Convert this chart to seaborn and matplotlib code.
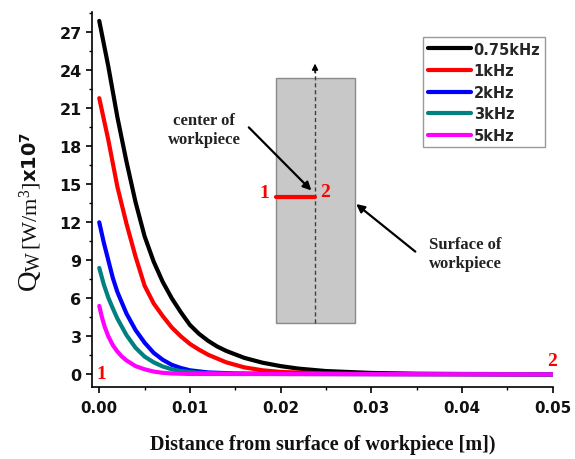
import numpy as np
import pandas as pd
import seaborn as sns
import matplotlib.pyplot as plt
from matplotlib.patches import Rectangle

# Heat generation Q_W (x10^7 W/m^3) versus distance from the workpiece surface
x_075 = [0.0, 0.001, 0.002, 0.003, 0.004, 0.005, 0.006, 0.007, 0.008, 0.009, 0.010, 0.011,
         0.012, 0.013, 0.014, 0.016, 0.018, 0.020, 0.022, 0.025, 0.030, 0.035, 0.040, 0.050]
q_075 = [27.9, 24.3, 20.3, 16.8, 13.6, 10.9, 8.9, 7.3, 6.0, 4.9, 3.9, 3.2,
         2.65, 2.2, 1.85, 1.3, 0.92, 0.65, 0.45, 0.26, 0.11, 0.05, 0.03, 0.01]

x_1 = [0.0, 0.001, 0.002, 0.003, 0.004, 0.005, 0.006, 0.007, 0.008, 0.009, 0.010, 0.011,
       0.012, 0.014, 0.016, 0.018, 0.020, 0.025, 0.030, 0.050]
q_1 = [21.8, 18.5, 14.8, 11.9, 9.3, 7.0, 5.6, 4.6, 3.7, 3.0, 2.4, 1.95,
       1.55, 0.95, 0.55, 0.32, 0.19, 0.07, 0.03, 0.0]

x_2 = [0.0, 0.0005, 0.001, 0.0015, 0.002, 0.003, 0.004, 0.005, 0.006, 0.007, 0.008, 0.009,
       0.010, 0.012, 0.015, 0.020, 0.050]
q_2 = [12.0, 10.4, 9.0, 7.6, 6.5, 4.8, 3.5, 2.5, 1.7, 1.15, 0.75, 0.5,
       0.32, 0.15, 0.07, 0.03, 0.0]

x_3 = [0.0, 0.0005, 0.001, 0.0015, 0.002, 0.003, 0.004, 0.005, 0.006, 0.007, 0.008, 0.009,
       0.011, 0.015, 0.050]
q_3 = [8.4, 7.1, 6.05, 5.2, 4.4, 3.1, 2.1, 1.4, 0.95, 0.62, 0.4, 0.26,
       0.12, 0.04, 0.0]

x_5 = [0.0, 0.0003, 0.0006, 0.001, 0.0015, 0.002, 0.0025, 0.003, 0.004, 0.005, 0.006, 0.007,
       0.008, 0.010, 0.050]
q_5 = [5.4, 4.5, 3.75, 3.0, 2.3, 1.8, 1.4, 1.1, 0.65, 0.4, 0.22, 0.12,
       0.07, 0.03, 0.0]

freq_labels = ["0.75kHz", "1kHz", "2kHz", "3kHz", "5kHz"]
line_colors = ["#000000", "#ff0000", "#0000ff", "#008080", "#ff00ff"]

y_ticks = [0, 3, 6, 9, 12, 15, 18, 21, 24, 27]
x_ticks = [0.00, 0.01, 0.02, 0.03, 0.04, 0.05]

series = [(x_075, q_075), (x_1, q_1), (x_2, q_2), (x_3, q_3), (x_5, q_5)]
frames = []
for lab, (xs, qs) in zip(freq_labels, series):
    frames.append(pd.DataFrame({"distance": xs, "Q": qs, "freq": lab}))
df = pd.concat(frames, ignore_index=True)

sns.set_theme(style="ticks")
plt.rcParams["font.family"] = ["DejaVu Sans"]
plt.rcParams["mathtext.fontset"] = "custom"
plt.rcParams["mathtext.rm"] = "Liberation Serif"
plt.rcParams["mathtext.it"] = "Liberation Serif:italic"
plt.rcParams["mathtext.bf"] = "DejaVu Sans:bold"

fig = plt.figure(figsize=(5.75, 4.6), dpi=100)
ax = fig.add_axes([0.16, 0.1565, 0.801, 0.8152])

sns.lineplot(data=df, x="distance", y="Q", hue="freq", hue_order=freq_labels,
             palette=line_colors, estimator=None, sort=False, linewidth=3.0, ax=ax)

ax.set_xlim(-0.0008, 0.05)
ax.set_ylim(-1.0, 28.6)
ax.set_xticks(x_ticks)
ax.set_xticklabels([f"{v:.2f}" for v in x_ticks])
ax.set_yticks(y_ticks)
ax.set_xticks([v + 0.005 for v in x_ticks[:-1]], minor=True)
ax.set_yticks([v + 1.5 for v in y_ticks], minor=True)
sns.despine(ax=ax)
for side in ["left", "bottom"]:
    ax.spines[side].set_linewidth(1.2)
    ax.spines[side].set_color("black")
ax.tick_params(which="major", direction="out", length=4.5, width=1.2, color="black", pad=3)
ax.tick_params(axis="y", which="major", labelsize=11.5)
ax.tick_params(axis="x", which="major", labelsize=10.8, pad=5)
ax.tick_params(which="minor", direction="out", length=2.5, width=1.0, color="black")
for t in ax.get_xticklabels() + ax.get_yticklabels():
    t.set_fontweight("bold")
    t.set_color("#111111")

ax.set_xlabel("Distance from surface of workpiece [m])", fontfamily="Liberation Serif",
              fontweight="bold", fontsize=14.5, color="#111111")
ax.xaxis.set_label_coords(0.5, -0.125)
ax.set_ylabel("")

# y-axis label assembled from pieces with different fonts, chained along the baseline
fig.canvas.draw()
renderer = fig.canvas.get_renderer()
H = fig.bbox.height
W = fig.bbox.width
base_x = 37 / W
y_start = 1 - 292 / H
pieces = [
    (r"Q$_{\mathrm{W}}$", dict(fontfamily="Liberation Serif", fontsize=20.5)),
    (r"[W/m$^{\mathrm{3}}$]", dict(fontfamily="Liberation Serif", fontsize=16)),
    (r"x10$^{\mathbf{7}}$", dict(fontfamily="DejaVu Sans", fontweight="bold", fontsize=14)),
]
cur = y_start
for s, kw in pieces:
    t = fig.text(base_x, cur, s, rotation=90, rotation_mode="anchor",
                 ha="left", va="baseline", color="#111111", **kw)
    bb = t.get_window_extent(renderer)
    cur += bb.height / H

legend = ax.legend(loc="upper right", bbox_to_anchor=(0.983, 0.933), borderaxespad=0,
                   frameon=True, fancybox=False, edgecolor="#808080",
                   prop={"family": "DejaVu Sans", "weight": "bold", "size": 10.5},
                   handlelength=3.0, handletextpad=0.15, borderpad=0.3, labelspacing=0.45)
legend.get_frame().set_linewidth(1.0)
for h in legend.get_lines():
    h.set_linewidth(3.0)

# workpiece cross-section sketch
ax.add_patch(Rectangle((0.01953, 4.03), 0.02817 - 0.01953, 23.42 - 4.03,
                       facecolor="#c8c8c8", edgecolor="#8a8a8a", linewidth=1.0, zorder=1))
ax.plot([0.0238, 0.0238], [4.03, 24.2], color="#404040", linestyle=(0, (3, 2)), linewidth=1.0, zorder=2)
ax.annotate("", xy=(0.0238, 24.75), xytext=(0.0238, 23.6),
            arrowprops=dict(arrowstyle="-|>", color="black", lw=1.0, mutation_scale=9), zorder=3)
ax.plot([0.01953, 0.0238], [13.97, 13.97], color="#ff0000", linewidth=3.0, zorder=3)
serif_red = dict(fontfamily="Liberation Serif", fontweight="bold", fontsize=14, color="#ff0000",
                 ha="center", va="center")
ax.text(0.01825, 14.36, "1", **serif_red)
ax.text(0.02492, 14.44, "2", **serif_red)
ax.text(0.0002, 0.1, "1", **serif_red)
ax.text(0.0499, 1.1, "2", **serif_red)

note = dict(fontfamily="Liberation Serif", fontweight="bold", fontsize=12, color="#222222",
            ha="center", va="center", linespacing=1.2)
ax.text(0.01159, 19.34, "center of\nworkpiece", **note)
ax.text(0.04035, 9.55, "Surface of\nworkpiece", **note)
ax.annotate("", xy=(0.02361, 14.36), xytext=(0.01628, 19.65),
            arrowprops=dict(arrowstyle="-|>", color="black", lw=1.6, mutation_scale=12))
ax.annotate("", xy=(0.0281, 13.58), xytext=(0.0351, 9.55),
            arrowprops=dict(arrowstyle="-|>", color="black", lw=1.6, mutation_scale=12))

fig.savefig("out.png", dpi=100)
